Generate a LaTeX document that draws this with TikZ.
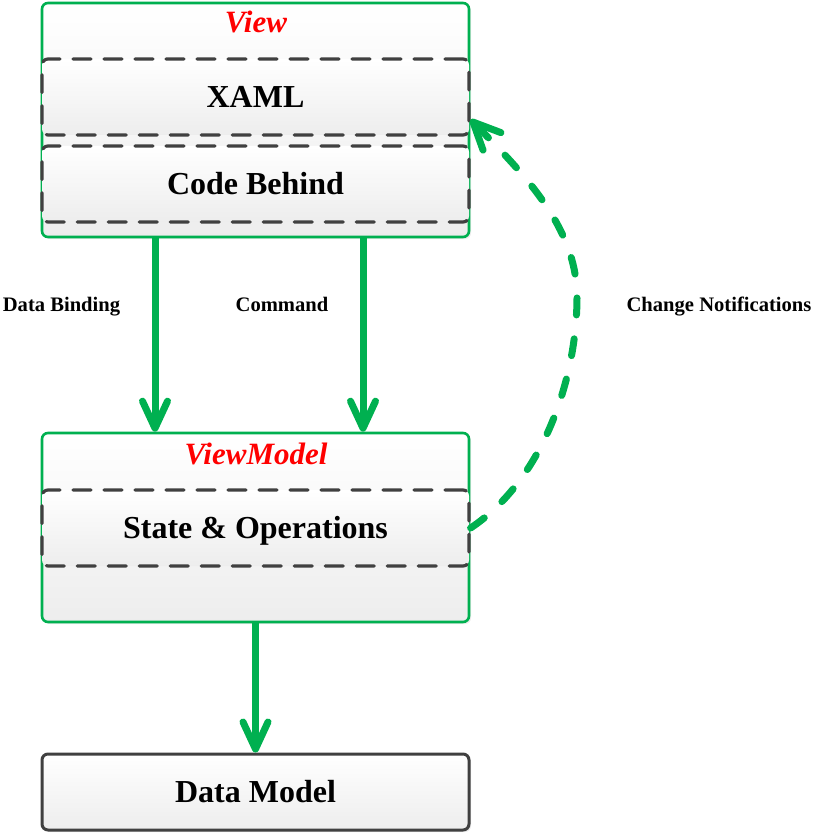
\documentclass[tikz,border=0pt]{standalone}
\usepackage{fontspec}
\setmainfont{Liberation Serif}
\usetikzlibrary{arrows.meta,shadows,calc}
\definecolor{mvgreen}{HTML}{00B050}
\definecolor{mvred}{HTML}{FF0000}
\definecolor{mvgray}{HTML}{404040}
\tikzset{
  outerbox/.style={draw=mvgreen, line width=2.6pt, rounded corners=6pt,
    top color=white, bottom color=black!7, minimum width=427pt,
    drop shadow={shadow xshift=2pt,shadow yshift=-2pt,fill=black!12,opacity=0.6}},
  innerbox/.style={draw=mvgray, line width=3.2pt, rounded corners=6pt,
    dash pattern=on 18pt off 13pt, line cap=round,
    top color=white, bottom color=black!7, minimum width=427pt, minimum height=76pt,
    text height=21pt, text depth=0pt,
    font=\fontsize{32}{36}\selectfont\bfseries},
  modelbox/.style={draw=mvgray, line width=3pt, rounded corners=6pt,
    top color=white, bottom color=black!7, minimum width=427pt, minimum height=76pt,
    text height=21pt, text depth=0pt,
    font=\fontsize{32}{36}\selectfont\bfseries,
    drop shadow={shadow xshift=2pt,shadow yshift=-2pt,fill=black!12,opacity=0.6}},
  titlelbl/.style={text=mvred, anchor=base, font=\fontsize{31}{34}\selectfont\bfseries\itshape},
  edgelbl/.style={anchor=base, font=\fontsize{20.6}{24}\selectfont\bfseries},
  flow/.style={draw=mvgreen, line width=7pt,
    -{Straight Barb[length=27pt,width=25pt,round]}},
  notify/.style={draw=mvgreen, line width=7pt, line cap=round,
    dash pattern=on 17pt off 24pt,
    -{Straight Barb[length=27pt,width=25pt,round]}},
}
\begin{document}
\begin{tikzpicture}[x=1pt,y=-1pt]
\useasboundingbox (0,0) rectangle (813,834);
% boxes
\node[outerbox, minimum height=234pt] (view) at (255.5,120) {};
\node[titlelbl] (viewlbl) at (256,33) {View};
\node[innerbox] (xaml) at (255.5,97) {XAML};
\node[innerbox] (code) at (255.5,184) {Code Behind};
\node[outerbox, minimum height=189pt] (vm) at (255.5,527.5) {};
\node[titlelbl] (vmlbl) at (256,464) {ViewModel};
\node[innerbox] (state) at (255.5,528) {State \& Operations};
\node[modelbox] (dm) at (255.5,792) {Data Model};
% labels
\node[edgelbl] (lbind) at (61.5,311.5) {Data Binding};
\node[edgelbl] (lcmd) at (282,311.5) {Command};
\node[edgelbl] (lnote) at (719,311.5) {Change Notifications};
% connectors
\coordinate (bx) at (155,0);
\coordinate (cx) at (363,0);
\draw[flow] (view.south -| bx) -- (vm.north -| bx);
\draw[flow] (view.south -| cx) -- (vm.north -| cx);
\draw[flow] (vm.south) -- (dm.north);
\coordinate (nmid) at (577,297);
\coordinate (nend) at ($(xaml.south east)+(0,-17)$);
\draw[notify] (state.east) .. controls (544,479) and (577,377) .. (nmid)
  .. controls (577,227) and (523,173) .. (nend);
\end{tikzpicture}
\end{document}
